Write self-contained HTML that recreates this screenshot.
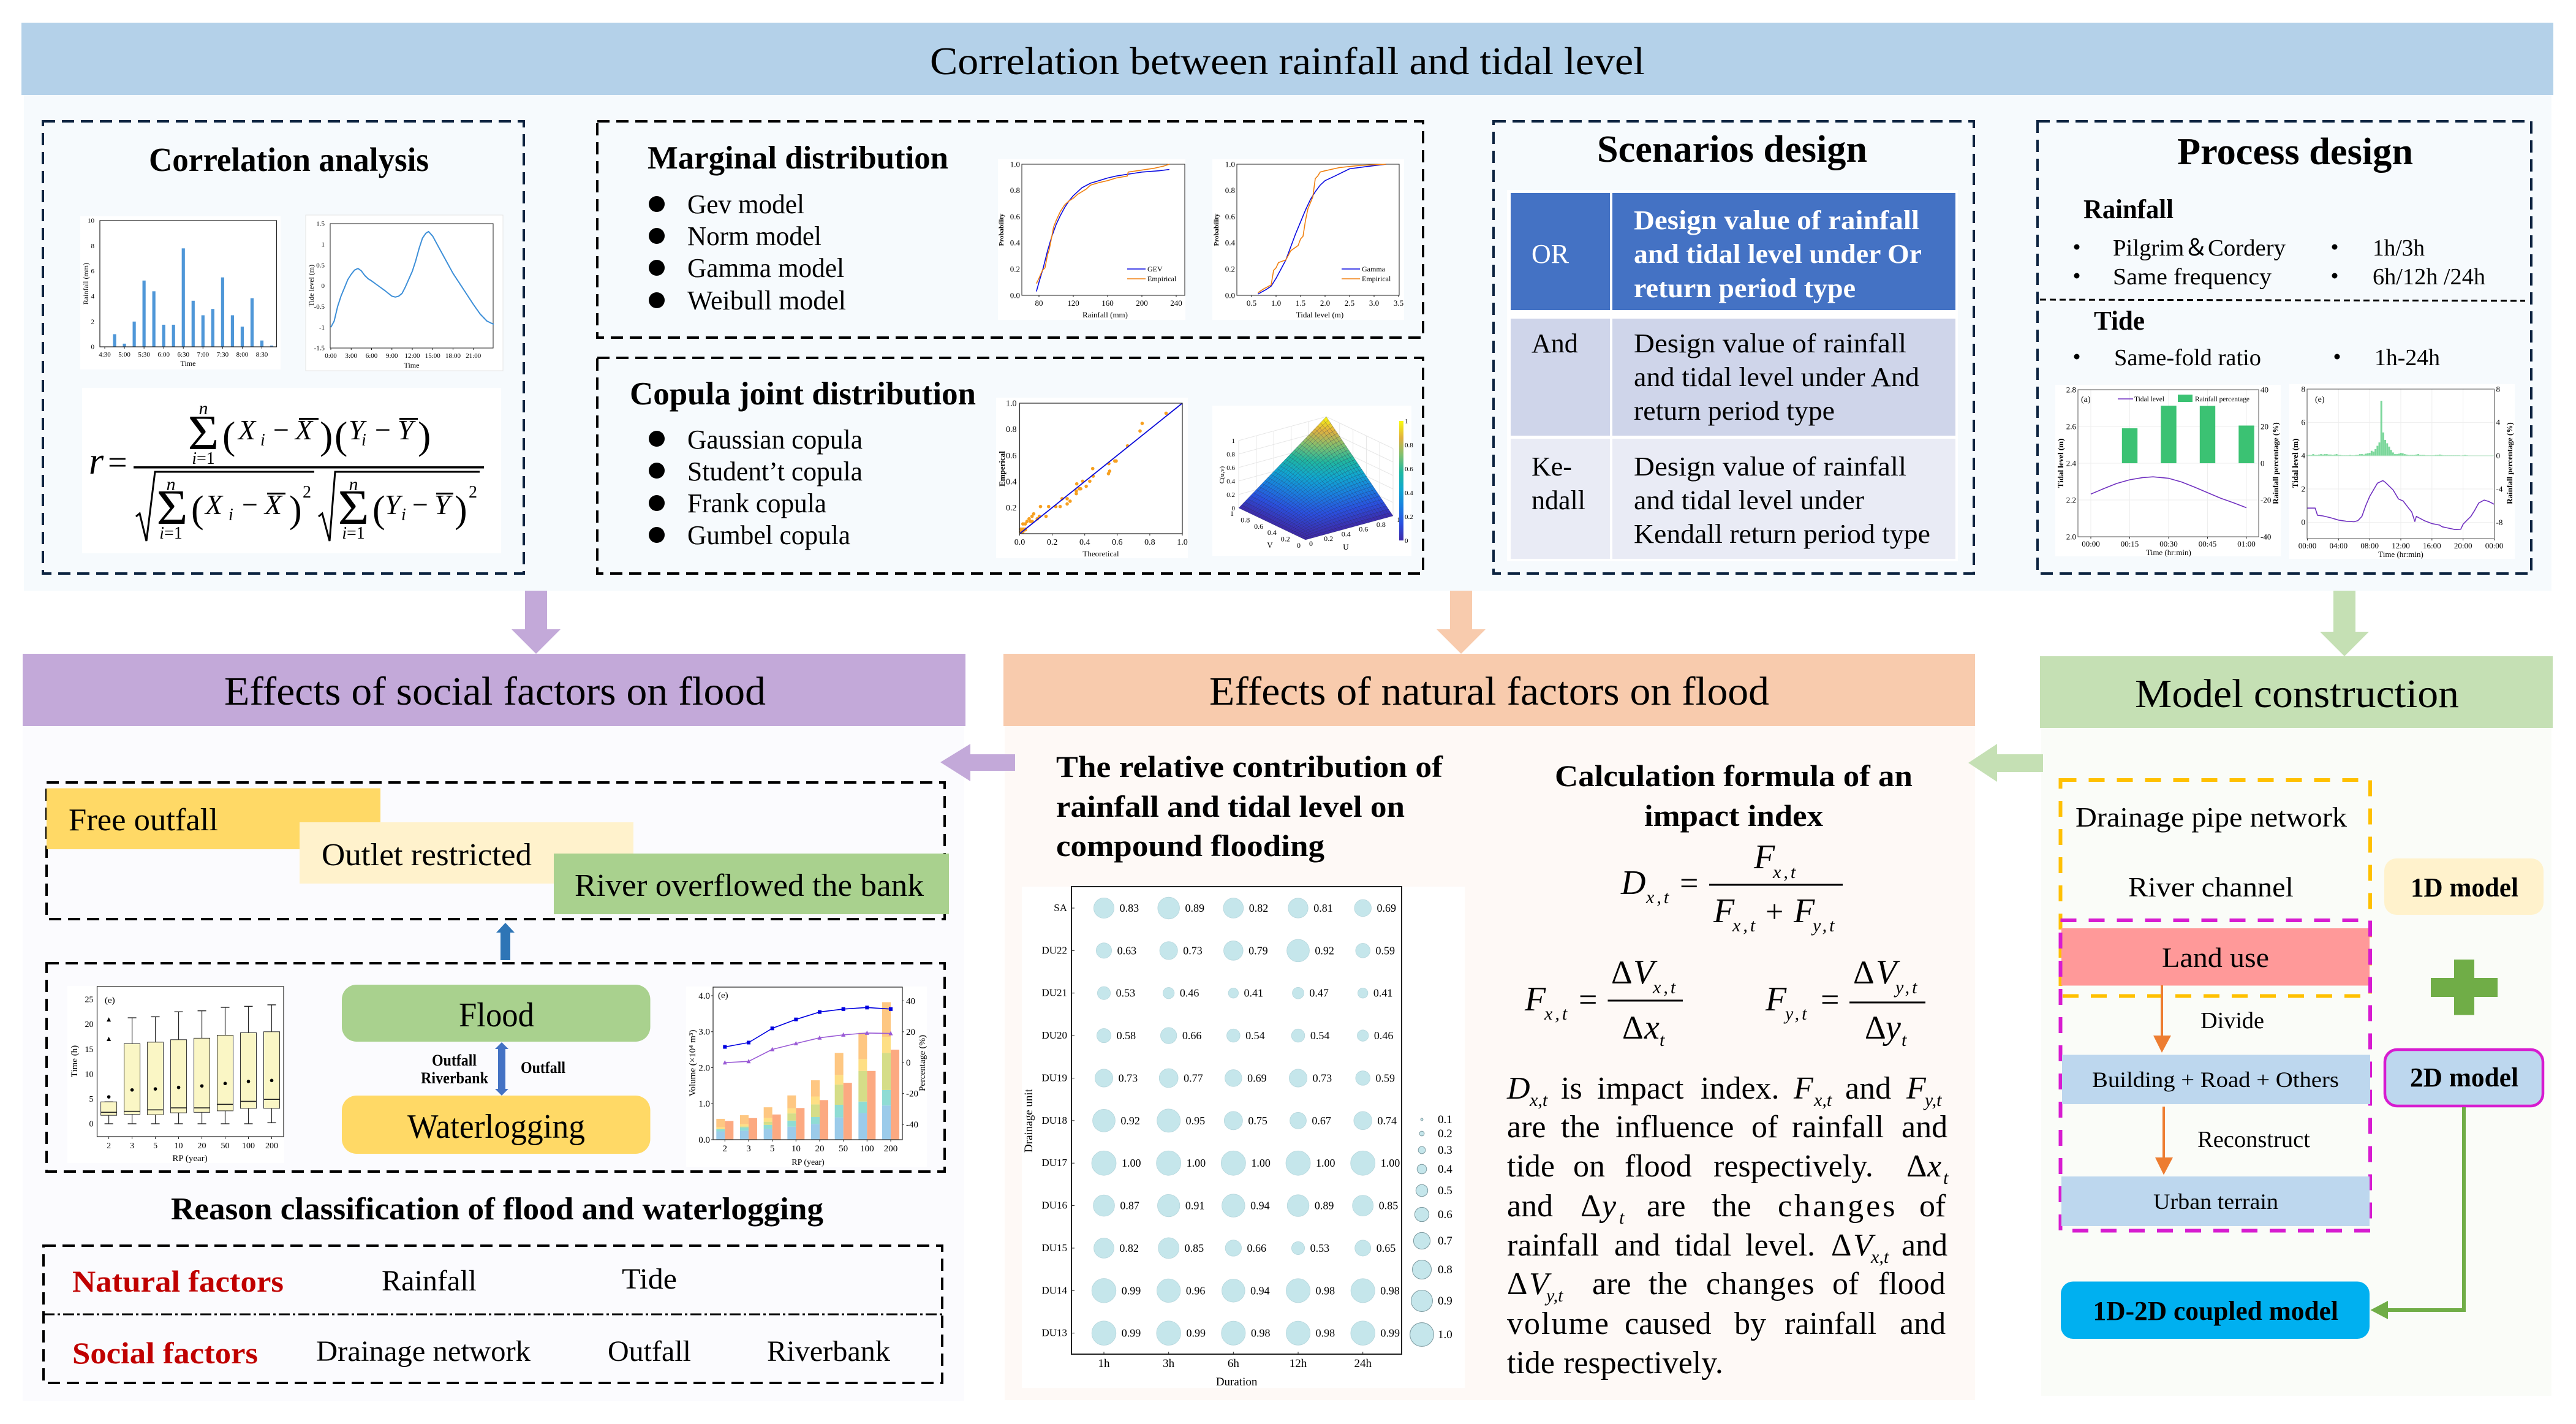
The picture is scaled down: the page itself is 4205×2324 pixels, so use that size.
<!DOCTYPE html>
<html lang="en">
<head>
<meta charset="utf-8">
<title>Correlation between rainfall and tidal level</title>
<style>
html,body{margin:0;padding:0;background:#fff}
svg{display:block}
text{font-family:"Liberation Serif","Times New Roman",serif;fill:#000}
.mi{font-style:italic}
.b{font-weight:bold}
.dk{fill:none;stroke:#0c2340;stroke-width:4;stroke-dasharray:20 11}
.bk{fill:none;stroke:#000;stroke-width:4;stroke-dasharray:20 11}
</style>
</head>
<body>
<svg id="canvas" xmlns="http://www.w3.org/2000/svg" width="4205" height="2324" viewBox="0 0 4205 2324">
<rect x="0" y="0" width="4205" height="2324" fill="#fff"/>

<!-- panels -->
<rect x="39" y="155" width="4126" height="809" fill="#f6fafd"/>
<rect x="37" y="1185" width="1537" height="1101" fill="#fbfbfe"/>
<rect x="1640" y="1185" width="1584" height="1100" fill="#fef9f6"/>
<rect x="3332" y="1188" width="833" height="1090" fill="#fafcf8"/>

<!-- banners -->
<rect x="35" y="37" width="4133" height="118" fill="#b4d1e9"/>
<text x="1518" y="121" font-size="64" textLength="1167" lengthAdjust="spacingAndGlyphs">Correlation between rainfall and tidal level</text>
<rect x="37" y="1067" width="1539" height="118" fill="#c3a9d9"/>
<text x="366" y="1150" font-size="66" textLength="884" lengthAdjust="spacingAndGlyphs">Effects of social factors on flood</text>
<rect x="1638" y="1067" width="1586" height="118" fill="#f8cbad"/>
<text x="1974" y="1150" font-size="66" textLength="914" lengthAdjust="spacingAndGlyphs">Effects of natural factors on flood</text>
<rect x="3330" y="1071" width="837" height="117" fill="#c5e0b4"/>
<text x="3485" y="1154" font-size="66" textLength="529" lengthAdjust="spacingAndGlyphs">Model construction</text>

<!-- flow arrows -->
<polygon points="857,964 893,964 893,1027 915,1027 875,1067 835,1027 857,1027" fill="#c3a9d9"/>
<polygon points="2367,964 2403,964 2403,1027 2425,1027 2385,1067 2345,1027 2367,1027" fill="#f8cbad"/>
<polygon points="3809,964 3845,964 3845,1031 3867,1031 3827,1071 3787,1031 3809,1031" fill="#c5e0b4"/>
<polygon points="1657,1231 1584,1231 1584,1214 1535,1244 1584,1275 1584,1258 1657,1258" fill="#c3a9d9"/>
<polygon points="3335,1231 3260,1231 3260,1214 3213,1245 3260,1276 3260,1260 3335,1260" fill="#c5e0b4"/>

<!-- correlation analysis -->
<rect x="70" y="198" width="785" height="738" class="dk"/>
<text x="243" y="279" font-size="55" class="b" textLength="457" lengthAdjust="spacingAndGlyphs">Correlation analysis</text>
<g id="rain-chart"><rect x="131" y="353" width="327" height="250" fill="#fff"/></g>
<g id="tide-chart"><rect x="499" y="351" width="322" height="254" fill="#fff" stroke="#e4e4e4" stroke-width="1"/></g>
<g>
<rect x="134" y="633" width="684" height="270" fill="#fff"/>
<text x="145" y="773" font-size="62" class="mi">r</text><text x="176" y="773" font-size="56">=</text>
<rect x="218" y="761" width="572" height="3.5" fill="#000"/>
<text x="332" y="733" font-size="80" text-anchor="middle" textLength="51" lengthAdjust="spacingAndGlyphs">Σ</text><text x="332" y="676" font-size="30" text-anchor="middle" class="mi">n</text><text x="332" y="757" font-size="28" text-anchor="middle"><tspan class="mi">i</tspan>=1</text>
<text x="363" y="732" font-size="64">(</text><text x="389" y="717" font-size="46" class="mi">X</text><text x="425" y="727" font-size="28" class="mi">i</text><text x="446" y="717" font-size="46">−</text><text x="482" y="717" font-size="46" class="mi">X</text><rect x="488" y="682" width="32" height="3"/><text x="522" y="732" font-size="64">)</text>
<text x="546" y="732" font-size="64">(</text><text x="569" y="717" font-size="46" class="mi">Y</text><text x="590" y="727" font-size="28" class="mi">i</text><text x="612" y="717" font-size="46">−</text><text x="649" y="717" font-size="46" class="mi">Y</text><rect x="652" y="682" width="30" height="3"/><text x="682" y="732" font-size="64">)</text>
<path d="M222 843 L228 838 L239 883 L253 770 L513 770" fill="none" stroke="#000" stroke-width="3"/>
<path d="M520 843 L526 838 L538 883 L547 770 L783 770" fill="none" stroke="#000" stroke-width="3"/>
<text x="281" y="855" font-size="80" text-anchor="middle" textLength="51" lengthAdjust="spacingAndGlyphs">Σ</text><text x="279" y="800" font-size="30" text-anchor="middle" class="mi">n</text><text x="279" y="879" font-size="28" text-anchor="middle"><tspan class="mi">i</tspan>=1</text>
<text x="312" y="852" font-size="62">(</text><text x="335" y="839" font-size="46" class="mi">X</text><text x="373" y="849" font-size="28" class="mi">i</text><text x="395" y="839" font-size="46">−</text><text x="432" y="839" font-size="46" class="mi">X</text><rect x="436" y="804" width="30" height="3"/><text x="472" y="852" font-size="62">)</text><text x="494" y="812" font-size="28">2</text>
<text x="577" y="855" font-size="80" text-anchor="middle" textLength="51" lengthAdjust="spacingAndGlyphs">Σ</text><text x="577" y="800" font-size="30" text-anchor="middle" class="mi">n</text><text x="577" y="879" font-size="28" text-anchor="middle"><tspan class="mi">i</tspan>=1</text>
<text x="608" y="852" font-size="62">(</text><text x="628" y="839" font-size="46" class="mi">Y</text><text x="655" y="849" font-size="28" class="mi">i</text><text x="673" y="839" font-size="46">−</text><text x="709" y="839" font-size="46" class="mi">Y</text><rect x="712" y="804" width="28" height="3"/><text x="742" y="852" font-size="62">)</text><text x="765" y="812" font-size="28">2</text>
</g>

<!-- marginal -->
<rect x="975" y="198" width="1348" height="353" class="bk"/>
<text x="1057" y="275" font-size="53" class="b" textLength="491" lengthAdjust="spacingAndGlyphs">Marginal distribution</text>
<g>
<circle cx="1072" cy="333" r="13"/><text x="1122" y="348" font-size="44" textLength="191" lengthAdjust="spacingAndGlyphs">Gev model</text>
<circle cx="1072" cy="385" r="13"/><text x="1122" y="400" font-size="44" textLength="219" lengthAdjust="spacingAndGlyphs">Norm model</text>
<circle cx="1072" cy="437" r="13"/><text x="1122" y="452" font-size="44" textLength="256" lengthAdjust="spacingAndGlyphs">Gamma model</text>
<circle cx="1072" cy="490" r="13"/><text x="1122" y="505" font-size="44" textLength="259" lengthAdjust="spacingAndGlyphs">Weibull model</text>
</g>
<g id="cdf-rain"><rect x="1629" y="260" width="306" height="262" fill="#fff"/></g>
<g id="cdf-tide"><rect x="1979" y="260" width="313" height="262" fill="#fff"/></g>

<!-- copula -->
<rect x="975" y="584" width="1348" height="352" class="bk"/>
<text x="1028" y="660" font-size="53" class="b" textLength="565" lengthAdjust="spacingAndGlyphs">Copula joint distribution</text>
<g>
<circle cx="1072" cy="716" r="13"/><text x="1122" y="732" font-size="44" textLength="286" lengthAdjust="spacingAndGlyphs">Gaussian copula</text>
<circle cx="1072" cy="768" r="13"/><text x="1122" y="784" font-size="44" textLength="286" lengthAdjust="spacingAndGlyphs">Student’t copula</text>
<circle cx="1072" cy="821" r="13"/><text x="1122" y="836" font-size="44" textLength="227" lengthAdjust="spacingAndGlyphs">Frank copula</text>
<circle cx="1072" cy="873" r="13"/><text x="1122" y="888" font-size="44" textLength="266" lengthAdjust="spacingAndGlyphs">Gumbel copula</text>
</g>
<g id="qq-chart"><rect x="1626" y="649" width="313" height="262" fill="#fff"/></g>
<g id="surface-chart"><rect x="1979" y="662" width="325" height="245" fill="#fff"/></g>

<!-- scenarios -->
<rect x="2438" y="198" width="784" height="738" class="dk"/>
<text x="2607" y="264" font-size="62" class="b" textLength="441" lengthAdjust="spacingAndGlyphs">Scenarios design</text>
<g>
<rect x="2460" y="310" width="736" height="606" fill="#fff"/>
<rect x="2466" y="315" width="162" height="191" fill="#4472c4"/>
<rect x="2632" y="315" width="560" height="191" fill="#4472c4"/>
<rect x="2466" y="520" width="162" height="191" fill="#cfd5ea"/>
<rect x="2632" y="520" width="560" height="191" fill="#cfd5ea"/>
<rect x="2466" y="716" width="162" height="196" fill="#e9ebf5"/>
<rect x="2632" y="716" width="560" height="196" fill="#e9ebf5"/>
<text x="2500" y="429" font-size="44" style="fill:#fff">OR</text>
<text x="2667" y="374" font-size="44" class="b" style="fill:#fff" textLength="466" lengthAdjust="spacingAndGlyphs">Design value of  rainfall</text>
<text x="2667" y="429" font-size="44" class="b" style="fill:#fff" textLength="470" lengthAdjust="spacingAndGlyphs">and tidal level under Or</text>
<text x="2667" y="485" font-size="44" class="b" style="fill:#fff" textLength="362" lengthAdjust="spacingAndGlyphs">return period type</text>
<text x="2500" y="575" font-size="44">And</text>
<text x="2667" y="575" font-size="44" textLength="445" lengthAdjust="spacingAndGlyphs">Design value of  rainfall</text>
<text x="2667" y="630" font-size="44" textLength="466" lengthAdjust="spacingAndGlyphs">and tidal level under And</text>
<text x="2667" y="685" font-size="44" textLength="328" lengthAdjust="spacingAndGlyphs">return period type</text>
<text x="2500" y="776" font-size="44">Ke-</text>
<text x="2500" y="831" font-size="44">ndall</text>
<text x="2667" y="776" font-size="44" textLength="445" lengthAdjust="spacingAndGlyphs">Design value of  rainfall</text>
<text x="2667" y="831" font-size="44" textLength="376" lengthAdjust="spacingAndGlyphs">and tidal level under</text>
<text x="2667" y="886" font-size="44" textLength="484" lengthAdjust="spacingAndGlyphs">Kendall return period type</text>
</g>

<!-- process -->
<rect x="3326" y="198" width="806" height="738" class="dk"/>
<line x1="3330" y1="489" x2="4122" y2="491" stroke="#000" stroke-width="3" stroke-dasharray="10 6"/>
<text x="3554" y="268" font-size="62" class="b" textLength="385" lengthAdjust="spacingAndGlyphs">Process design</text>
<text x="3401" y="356" font-size="44" class="b" textLength="147" lengthAdjust="spacingAndGlyphs">Rainfall</text>
<circle cx="3390" cy="403" r="4.5"/><text x="3449" y="417" font-size="38" textLength="282" lengthAdjust="spacingAndGlyphs">Pilgrim＆Cordery</text>
<circle cx="3390" cy="450" r="4.5"/><text x="3449" y="464" font-size="38" textLength="259" lengthAdjust="spacingAndGlyphs">Same  frequency</text>
<circle cx="3811" cy="403" r="4.5"/><text x="3873" y="417" font-size="38" textLength="85" lengthAdjust="spacingAndGlyphs">1h/3h</text>
<circle cx="3811" cy="450" r="4.5"/><text x="3873" y="464" font-size="38" textLength="184" lengthAdjust="spacingAndGlyphs">6h/12h /24h</text>
<text x="3418" y="538" font-size="44" class="b" textLength="83" lengthAdjust="spacingAndGlyphs">Tide</text>
<circle cx="3390" cy="582" r="4.5"/><text x="3451" y="596" font-size="38" textLength="240" lengthAdjust="spacingAndGlyphs">Same-fold ratio</text>
<circle cx="3815" cy="582" r="4.5"/><text x="3876" y="596" font-size="38" textLength="107" lengthAdjust="spacingAndGlyphs">1h-24h</text>
<g id="short-event"><rect x="3355" y="628" width="368" height="280" fill="#fff"/></g>
<g id="long-event"><rect x="3737" y="627" width="368" height="285" fill="#fff"/></g>

<!-- social section -->
<rect x="76" y="1277" width="1466" height="223" class="bk"/>
<rect x="76" y="1286.5" width="545" height="99.5" fill="#ffd966"/>
<text x="112" y="1355" font-size="52" textLength="244" lengthAdjust="spacingAndGlyphs">Free outfall</text>
<rect x="489" y="1342" width="545" height="100" fill="#fff2cc"/>
<text x="525" y="1412" font-size="52" textLength="343" lengthAdjust="spacingAndGlyphs">Outlet restricted</text>
<rect x="904" y="1393" width="645" height="99" fill="#a9d18e"/>
<text x="938" y="1462" font-size="52" textLength="570" lengthAdjust="spacingAndGlyphs">River overflowed the bank</text>
<polygon points="825,1506 840,1522 833,1522 833,1567 817,1567 817,1522 810,1522" fill="#2e75b6"/>
<rect x="76" y="1572" width="1466" height="340" class="bk"/>
<g id="box-chart"><rect x="110" y="1609" width="354" height="289" fill="#fff"/></g>
<rect x="558" y="1607" width="503.5" height="93" rx="24" fill="#a9d18e"/>
<text x="749" y="1675" font-size="56" textLength="123" lengthAdjust="spacingAndGlyphs">Flood</text>
<rect x="558" y="1788" width="503.5" height="95" rx="24" fill="#ffd966"/>
<text x="665" y="1857" font-size="56" textLength="290" lengthAdjust="spacingAndGlyphs">Waterlogging</text>
<polygon points="819,1701 830,1712 825,1712 825,1777 830,1777 819,1788 808,1777 813,1777 813,1712 808,1712" fill="#4472c4"/>
<text x="705" y="1739" font-size="26" class="b" textLength="73" lengthAdjust="spacingAndGlyphs">Outfall</text>
<text x="687" y="1768" font-size="26" class="b" textLength="110" lengthAdjust="spacingAndGlyphs">Riverbank</text>
<text x="850" y="1751" font-size="26" class="b" textLength="73" lengthAdjust="spacingAndGlyphs">Outfall</text>
<g id="volume-chart"><rect x="1120" y="1610" width="393" height="295" fill="#fff"/></g>
<text x="279" y="1990" font-size="52" class="b" textLength="1065" lengthAdjust="spacingAndGlyphs">Reason classification of flood and waterlogging</text>
<rect x="71" y="2033" width="1467" height="224" class="bk"/>
<line x1="71" y1="2145" x2="1538" y2="2145" stroke="#000" stroke-width="3" stroke-dasharray="18 5 4 5"/>
<text x="118" y="2108" font-size="50" class="b" style="fill:#c00000" textLength="345" lengthAdjust="spacingAndGlyphs">Natural factors</text>
<text x="623" y="2106" font-size="48" textLength="155" lengthAdjust="spacingAndGlyphs">Rainfall</text>
<text x="1015" y="2103" font-size="48" textLength="90" lengthAdjust="spacingAndGlyphs">Tide</text>
<text x="118" y="2225" font-size="50" class="b" style="fill:#c00000" textLength="303" lengthAdjust="spacingAndGlyphs">Social factors</text>
<text x="516" y="2221" font-size="48" textLength="350" lengthAdjust="spacingAndGlyphs">Drainage network</text>
<text x="992" y="2221" font-size="48" textLength="136" lengthAdjust="spacingAndGlyphs">Outfall</text>
<text x="1252" y="2221" font-size="48" textLength="201" lengthAdjust="spacingAndGlyphs">Riverbank</text>

<!-- natural section -->
<text x="1724" y="1268" font-size="50" class="b" textLength="631" lengthAdjust="spacingAndGlyphs">The relative contribution of</text>
<text x="1724" y="1333" font-size="50" class="b" textLength="569" lengthAdjust="spacingAndGlyphs">rainfall and tidal level on</text>
<text x="1724" y="1397" font-size="50" class="b" textLength="438" lengthAdjust="spacingAndGlyphs">compound flooding</text>
<g id="bubble-chart"><rect x="1668" y="1447" width="723" height="818" fill="#fff"/></g>
<text x="2538" y="1283" font-size="50" class="b" textLength="584" lengthAdjust="spacingAndGlyphs">Calculation formula of an</text>
<text x="2684" y="1348" font-size="50" class="b" textLength="292" lengthAdjust="spacingAndGlyphs">impact index</text>
<g>
<text x="2646" y="1459" font-size="56" class="mi">D</text><text x="2687" y="1474" font-size="30" class="mi" letter-spacing="4">x,t</text><text x="2742" y="1459" font-size="54">=</text>
<rect x="2790" y="1442.5" width="218" height="3"/>
<text x="2863" y="1417" font-size="56" class="mi">F</text><text x="2894" y="1433" font-size="30" class="mi" letter-spacing="4">x,t</text>
<text x="2797" y="1505" font-size="56" class="mi">F</text><text x="2828" y="1520" font-size="30" class="mi" letter-spacing="4">x,t</text><text x="2882" y="1505" font-size="52">+</text><text x="2928" y="1505" font-size="56" class="mi">F</text><text x="2959" y="1520" font-size="30" class="mi" letter-spacing="4">y,t</text>
</g>
<g>
<text x="2489" y="1649" font-size="56" class="mi">F</text><text x="2521" y="1664" font-size="30" class="mi" letter-spacing="4">x,t</text><text x="2577" y="1649" font-size="54">=</text>
<rect x="2624.5" y="1631.5" width="122.5" height="3"/>
<text x="2630" y="1605" font-size="54">Δ</text><text x="2666" y="1605" font-size="56" class="mi">V</text><text x="2698" y="1621" font-size="30" class="mi" letter-spacing="4">x,t</text>
<text x="2648" y="1695" font-size="54">Δ</text><text x="2684" y="1695" font-size="56" class="mi">x</text><text x="2709" y="1707" font-size="30" class="mi">t</text>
</g>
<g>
<text x="2882" y="1649" font-size="56" class="mi">F</text><text x="2914" y="1664" font-size="30" class="mi" letter-spacing="4">y,t</text><text x="2972" y="1649" font-size="54">=</text>
<rect x="3019" y="1634.5" width="124" height="3"/>
<text x="3025" y="1605" font-size="54">Δ</text><text x="3062" y="1605" font-size="56" class="mi">V</text><text x="3094" y="1621" font-size="30" class="mi" letter-spacing="4">y,t</text>
<text x="3044" y="1695" font-size="54">Δ</text><text x="3078" y="1695" font-size="56" class="mi">y</text><text x="3104" y="1707" font-size="30" class="mi">t</text>
</g>
<g font-size="52">
<text y="1793"><tspan x="2460" class="mi">D</tspan><tspan x="2497" dy="12" font-size="30" class="mi">x,t</tspan><tspan x="2548" dy="-12">is</tspan><tspan x="2607">impact</tspan><tspan x="2776">index.</tspan><tspan x="2928" class="mi">F</tspan><tspan x="2961" dy="12" font-size="30" class="mi">x,t</tspan><tspan x="3012" dy="-12">and</tspan><tspan x="3112" class="mi">F</tspan><tspan x="3142" dy="12" font-size="30" class="mi">y,t</tspan></text>
<text y="1856"><tspan x="2460">are</tspan><tspan x="2548">the</tspan><tspan x="2637">influence</tspan><tspan x="2859">of</tspan><tspan x="2925">rainfall</tspan><tspan x="3104">and</tspan></text>
<text y="1920"><tspan x="2460">tide</tspan><tspan x="2568">on</tspan><tspan x="2652">flood</tspan><tspan x="2797">respectively.</tspan><tspan x="3112">Δ</tspan><tspan x="3146" class="mi">x</tspan><tspan x="3172" dy="12" font-size="30" class="mi">t</tspan></text>
<text y="1985"><tspan x="2460">and</tspan><tspan x="2580">Δ</tspan><tspan x="2615" class="mi">y</tspan><tspan x="2643" dy="12" font-size="30" class="mi">t</tspan><tspan x="2688" dy="-12">are</tspan><tspan x="2795">the</tspan><tspan x="2902" letter-spacing="4">changes</tspan><tspan x="3133">of</tspan></text>
<text y="2049"><tspan x="2460">rainfall</tspan><tspan x="2635">and</tspan><tspan x="2734">tidal</tspan><tspan x="2849">level.</tspan><tspan x="2989">Δ</tspan><tspan x="3025" class="mi">V</tspan><tspan x="3054" dy="12" font-size="30" class="mi">x,t</tspan><tspan x="3104" dy="-12">and</tspan></text>
<text y="2112"><tspan x="2460">Δ</tspan><tspan x="2496" class="mi">V</tspan><tspan x="2524" dy="12" font-size="30" class="mi">y,t</tspan><tspan x="2599" dy="-12">are</tspan><tspan x="2691">the</tspan><tspan x="2785" letter-spacing="1.5">changes</tspan><tspan x="2991">of</tspan><tspan x="3066">flood</tspan></text>
<text y="2177"><tspan x="2460" letter-spacing="2">volume</tspan><tspan x="2652">caused</tspan><tspan x="2831">by</tspan><tspan x="2913">rainfall</tspan><tspan x="3101">and</tspan></text>
<text y="2241"><tspan x="2460">tide</tspan><tspan x="2552">respectively.</tspan></text>
</g>

<!-- model section -->
<rect x="3363.5" y="1273" width="505.5" height="352.5" fill="none" stroke="#ffc000" stroke-width="6" stroke-dasharray="26 20"/>
<text x="3388" y="1349" font-size="46" textLength="443" lengthAdjust="spacingAndGlyphs">Drainage pipe network</text>
<text x="3474" y="1463" font-size="46" textLength="270" lengthAdjust="spacingAndGlyphs">River channel</text>
<rect x="3365" y="1515" width="503" height="93.5" fill="#ff9999"/>
<rect x="3363.5" y="1502" width="505.5" height="506.5" fill="none" stroke="#d71cd0" stroke-width="6" stroke-dasharray="26 20"/>
<text x="3529" y="1578" font-size="46" textLength="175" lengthAdjust="spacingAndGlyphs">Land use</text>
<polygon points="3527,1608 3531,1608 3531,1690 3544,1690 3529,1718 3515,1690 3527,1690" fill="#ed7d31"/>
<text x="3592" y="1678" font-size="38" textLength="104" lengthAdjust="spacingAndGlyphs">Divide</text>
<rect x="3366" y="1721.5" width="503" height="80.5" fill="#bdd7ee"/>
<text x="3415" y="1774" font-size="36" textLength="403" lengthAdjust="spacingAndGlyphs">Building + Road + Others</text>
<polygon points="3530,1806 3534,1806 3534,1889 3547,1889 3532,1917.5 3518,1889 3530,1889" fill="#ed7d31"/>
<text x="3587" y="1872" font-size="38" textLength="184" lengthAdjust="spacingAndGlyphs">Reconstruct</text>
<rect x="3365" y="1920" width="503" height="81" fill="#bdd7ee"/>
<text x="3515" y="1973" font-size="36" textLength="204" lengthAdjust="spacingAndGlyphs">Urban terrain</text>
<rect x="3892" y="1401" width="260" height="92" rx="20" fill="#fff2cc"/>
<text x="3935" y="1463" font-size="44" class="b" textLength="176" lengthAdjust="spacingAndGlyphs">1D model</text>
<path d="M3968 1596H4006V1566H4039V1596H4077V1627H4039V1656.5H4006V1627H3968Z" fill="#70ad47"/>
<rect x="3893" y="1713" width="258" height="92" rx="20" fill="#bdd7ee" stroke="#d71cd0" stroke-width="4.5"/>
<text x="3934" y="1773" font-size="44" class="b" textLength="177" lengthAdjust="spacingAndGlyphs">2D model</text>
<path d="M4022 1807V2138H3895" fill="none" stroke="#70ad47" stroke-width="6"/>
<polygon points="3869.5,2138 3898,2123 3898,2153" fill="#70ad47"/>
<rect x="3364" y="2091.5" width="504" height="93.5" rx="20" fill="#00b0f0"/>
<text x="3416.5" y="2154" font-size="44" class="b" textLength="400.5" lengthAdjust="spacingAndGlyphs">1D-2D coupled model</text>
</svg>

<script>
// ---- Rainfall bar chart data
const rainTimes = ["4:30","4:45","5:00","5:15","5:30","5:45","6:00","6:15","6:30","6:45","7:00","7:15","7:30","7:45","8:00","8:15","8:30","8:45"];
const rainDepth = [0,1,0.25,2,5.25,4.4,1.75,1.75,7.8,3.65,2.5,3,5.5,2.5,1.6,3.85,0.5,0.1];
const rainYTicks = ["0","2","4","6","8","10"];
// ---- Tide line chart data
const tideHours = [0,0.5,1,1.5,2,2.5,3,3.5,4,4.5,5,5.5,6,7,8,9,9.5,10,10.5,11,12,12.5,13,13.5,14,14.4,15,16,17,18,19,20,21,22,23,24];
const tideLevels = [-1,-0.85,-0.5,-0.25,-0.05,0.15,0.28,0.38,0.42,0.36,0.25,0.17,0.12,0,-0.12,-0.25,-0.27,-0.25,-0.18,-0.02,0.35,0.6,0.9,1.15,1.27,1.31,1.2,0.9,0.6,0.3,0.05,-0.2,-0.45,-0.68,-0.85,-0.93];
const tideXTicks = ["0:00","3:00","6:00","9:00","12:00","15:00","18:00","21:00"];
const tideYTicks = ["-1.5","-1","-0.5","0","0.5","1","1.5"];
// ---- Marginal CDF data
const cdfRainX = [77,80,85,90,95,100,105,110,115,120,125,130,140,150,160,170,180,190,200,220,232];
const cdfRainGev = [0.03,0.1,0.21,0.34,0.45,0.54,0.61,0.67,0.72,0.76,0.79,0.82,0.855,0.875,0.895,0.91,0.92,0.93,0.94,0.95,0.96];
const cdfRainEmpX = [77,80,84,87,90,92,95,97,100,105,110,115,120,125,130,135,140,150,160,170,183,184,200,215,225,232];
const cdfRainEmpY = [0.09,0.13,0.19,0.21,0.31,0.35,0.45,0.52,0.57,0.64,0.69,0.72,0.74,0.77,0.79,0.81,0.84,0.86,0.875,0.895,0.91,0.94,0.955,0.97,0.985,1];
const cdfRainTicks = ["80","120","160","200","240"];
const cdfTideX = [0.63,0.8,0.9,1,1.1,1.2,1.3,1.4,1.5,1.6,1.7,1.8,1.9,2,2.2,2.5,2.8,3.25];
const cdfTideGamma = [0.01,0.045,0.07,0.13,0.2,0.27,0.37,0.47,0.56,0.65,0.73,0.79,0.84,0.875,0.91,0.965,0.98,1];
const cdfTideEmpX = [0.63,0.75,0.9,0.95,1,1.05,1.2,1.3,1.45,1.5,1.55,1.6,1.65,1.75,1.8,1.85,1.9,2,2.3,2.7,3.25];
const cdfTideEmpY = [0.02,0.05,0.08,0.19,0.21,0.25,0.27,0.34,0.38,0.43,0.45,0.57,0.66,0.75,0.89,0.91,0.94,0.95,0.975,0.99,1];
const cdfTideTicks = ["0.5","1.0","1.5","2.0","2.5","3.0","3.5"];
const probTicks = ["0.0","0.2","0.4","0.6","0.8","1.0"];
// ---- QQ scatter data
const qqTheoretical = [0.9,0.753,0.74,0.663,0.593,0.585,0.548,0.553,0.546,0.449,0.452,0.431,0.409,0.387,0.351,0.348,0.348,0.366,0.375,0.31,0.292,0.292,0.261,0.249,0.222,0.178,0.128,0.162,0.121,0.108,0.086,0.076,0.077,0.067,0.058,0.045,0.034,0.02,0.005,0.015,0.025,0.035,0.005,0.01,0.02,0.035];
const qqEmpirical = [0.923,0.845,0.787,0.673,0.557,0.557,0.537,0.479,0.46,0.499,0.441,0.402,0.363,0.402,0.382,0.327,0.307,0.344,0.344,0.249,0.268,0.228,0.268,0.208,0.208,0.208,0.208,0.133,0.133,0.114,0.152,0.133,0.094,0.094,0.114,0.094,0.075,0.075,0.035,0.035,0.035,0.035,0.015,0.015,0.015,0.03];
const qqXTicks = ["0.0","0.2","0.4","0.6","0.8","1.0"];
const qqYTicks = ["0.2","0.4","0.6","0.8","1.0"];
// ---- Copula surface data (rows: u = 0..1, columns: v = 0..1)
const surfaceC = [
[0,0,0,0,0,0,0,0,0,0,0],
[0,0.026,0.044,0.058,0.069,0.078,0.085,0.091,0.096,0.099,0.1],
[0,0.044,0.078,0.106,0.13,0.15,0.166,0.179,0.189,0.197,0.2],
[0,0.058,0.106,0.148,0.185,0.216,0.243,0.264,0.282,0.294,0.3],
[0,0.069,0.13,0.185,0.234,0.277,0.315,0.347,0.372,0.391,0.4],
[0,0.078,0.15,0.216,0.277,0.333,0.382,0.425,0.461,0.487,0.5],
[0,0.085,0.166,0.243,0.315,0.382,0.444,0.5,0.546,0.582,0.6],
[0,0.091,0.179,0.264,0.347,0.425,0.5,0.568,0.627,0.674,0.7],
[0,0.096,0.189,0.282,0.372,0.461,0.546,0.627,0.703,0.765,0.8],
[0,0.099,0.197,0.294,0.391,0.487,0.582,0.674,0.765,0.846,0.9],
[0,0.1,0.2,0.3,0.4,0.5,0.6,0.7,0.8,0.9,1]];
const surfaceTicks = ["0","0.2","0.4","0.6","0.8","1"];
const colorbarTicks = ["0","0.2","0.4","0.6","0.8","1"];
const parulaColors = ["#3e2aa8","#2a50e0","#1a80e0","#10a8d0","#20b8a0","#80c070","#e0b040","#f9fb0e"];
// ---- One-hour event data
const shortBarMinutes = [15,30,45,60];
const shortRainPct = [19,31.3,31.2,20.5];
const shortTideMinutes = [0,5,10,15,20,24,30,35,40,45,50,55,60];
const shortTideLevel = [2.232,2.262,2.29,2.31,2.322,2.326,2.318,2.298,2.27,2.24,2.21,2.185,2.158];
const shortXTicks = ["00:00","00:15","00:30","00:45","01:00"];
const shortLeftTicks = ["2.0","2.2","2.4","2.6","2.8"];
const shortRightTicks = ["-40","-20","0","20","40"];
// ---- Daily event data
const longRainPct = [0.05,0.1,0.1,0.2,0.1,0.1,0.15,0.2,0.15,0.2,0.2,0.15,0.15,0.1,0.15,0.2,0.1,0.1,0.05,0.05,0.05,0.05,0.1,0.05,0.05,0.1,0.1,0.2,0.2,0.15,0.25,0.3,0.35,0.6,0.5,0.8,1.2,1.6,6.6,2.8,1.9,1.5,1.1,0.7,0.4,0.2,0.2,0.25,0.35,0.3,0.2,0.15,0.1,0.1,0.1,0.1,0.15,0.2,0.1,0.1,0.1,0.05,0.05,0.05,0.05,0.05,0.1,0.1,0.15,0.1,0.05,0.05,0.05,0.05,0.05,0.05,0.05,0.05,0.05,0.02,0.05,0.1,0.05,0.02,0.02,0.02,0.02,0.02,0.02,0.02,0.02,0.02,0.02,0.02,0.02,0.02];
const longTideHours = [0,1,1.3,2,3,4,5,6,6.5,7,7.5,8,8.5,9,9.7,10,11,11.7,12.3,13,13.4,13.8,14,15,16,17,17.3,18,19,19.7,20,20.5,21,21.5,22,22.7,23.3,24];
const longTideLevel = [0.85,0.85,0.42,0.38,0.27,0.13,0.06,0.03,0.1,0.35,1,1.55,1.95,2.35,2.5,2.4,1.95,1.4,1.28,0.85,0.62,0.05,0.35,0.1,-0.08,-0.17,-0.27,-0.34,-0.44,-0.42,-0.12,0.12,0.35,0.72,1.15,1.33,1.25,1.08];
const longXTicks = ["00:00","04:00","08:00","12:00","16:00","20:00","00:00"];
const longLeftTicks = ["0","2","4","6","8"];
const longRightTicks = ["-8","-4","0","4","8"];
// ---- Box plot data
const boxRP = ["2","3","5","10","20","50","100","200"];
const boxLow = [0,0,0,0,0,0,0,0.2];
const boxQ1 = [1.7,1.9,1.8,2.2,2.3,2.6,3.1,3.1];
const boxMedian = [2.3,2.5,2.8,3.2,3.2,3.9,4.5,4.9];
const boxQ3 = [4.4,16.1,16.4,16.9,17.2,17.8,18.3,18.5];
const boxHigh = [4.4,21.3,21.5,22.5,22.7,23.4,23.6,23.9];
const boxMean = [5.4,6.8,7,7.3,7.6,8.1,8.5,8.7];
const boxOutliers = [17,20.9];
const boxYTicks = ["0","5","10","15","20","25"];
// ---- Volume bar and line data
const volumeRP = ["2","3","5","10","20","50","100","200"];
const volBlue = [0.23,0.25,0.3,0.36,0.44,0.62,0.74,0.95];
const volTeal = [0.06,0.09,0.11,0.17,0.19,0.35,0.32,0.43];
const volGreen = [0.01,0.03,0.09,0.2,0.35,0.56,0.85,1.03];
const volYellow = [0.05,0.06,0.1,0.14,0.22,0.27,0.33,0.45];
const volOrange = [0.23,0.25,0.3,0.36,0.45,0.61,0.73,0.96];
const volTotal = [0.52,0.6,0.7,0.88,1.1,1.58,1.91,2.5];
const pctBlue = [10.2,13,22.2,28,32.8,34.7,35.7,34.7];
const pctPurple = [0,0.8,8.6,12.4,16.1,18,19.2,18.9];
const volLeftTicks = ["0.0","1.0","2.0","3.0","4.0"];
const volRightTicks = ["-40","-20","0","20","40"];
// ---- Bubble chart data
const bubbleRows = ["SA","DU22","DU21","DU20","DU19","DU18","DU17","DU16","DU15","DU14","DU13"];
const bubbleCols = ["1h","3h","6h","12h","24h"];
const bubbleValues = [
[0.83,0.89,0.82,0.81,0.69],
[0.63,0.73,0.79,0.92,0.59],
[0.53,0.46,0.41,0.47,0.41],
[0.58,0.66,0.54,0.54,0.46],
[0.73,0.77,0.69,0.73,0.59],
[0.92,0.95,0.75,0.67,0.74],
[1,1,1,1,1],
[0.87,0.91,0.94,0.89,0.85],
[0.82,0.85,0.66,0.53,0.65],
[0.99,0.96,0.94,0.98,0.98],
[0.99,0.99,0.98,0.98,0.99]];
const bubbleLegend = [0.1,0.2,0.3,0.4,0.5,0.6,0.7,0.8,0.9,1];

const NS = 'http://www.w3.org/2000/svg';
function add(parent, tag, attrs, txt) {
  const e = document.createElementNS(NS, tag);
  for (const k in attrs) e.setAttribute(k, attrs[k]);
  if (txt !== undefined) e.textContent = txt;
  parent.appendChild(e);
  return e;
}
function scale(d0, d1, r0, r1) { return v => r0 + (v - d0) * (r1 - r0) / (d1 - d0); }
const G = id => document.getElementById(id);

function frame(g, name, x0, y0, x1, y1, w, c) {
  const r = add(g, 'rect', {x: x0, y: y0, width: x1 - x0, height: y1 - y0, fill: 'none', stroke: c || '#222', 'stroke-width': w || 1.2});
  
  
}
function xAxis(g, name, labels, at, y, font, gap, len) {
  labels.forEach((lab, i) => {
    const px = at(lab, i);
    if (px === null) return;
    const tk = add(g, 'line', {x1: px, x2: px, y1: y, y2: y + len, stroke: '#222', 'stroke-width': 1});
    
    
    const t = add(g, 'text', {x: px, y: y + gap, 'font-size': font, 'text-anchor': 'middle'}, lab);
    
    
  });
}
function yAxis(g, name, labels, at, x, dir, font, gap, len) {
  labels.forEach(lab => {
    const py = at(parseFloat(lab));
    const tk = add(g, 'line', {x1: x, x2: x + dir * len, y1: py, y2: py, stroke: '#222', 'stroke-width': 1});
    
    
    const t = add(g, 'text', {x: x + dir * gap, y: py + font * 0.33, 'font-size': font, 'text-anchor': dir < 0 ? 'end' : 'start'}, lab);
    
    
  });
}
function title(g, name, str, x, y, font, rot, bold) {
  const attrs = {x: x, y: y, 'font-size': font, 'text-anchor': 'middle'};
  if (rot) attrs.transform = 'rotate(-90 ' + x + ' ' + y + ')';
  if (bold) attrs['font-weight'] = 'bold';
  const t = add(g, 'text', attrs, str);
  
  
}
function poly(g, name, xs, ys, sx, sy, color, w) {
  const pts = xs.map((v, i) => sx(v).toFixed(1) + ',' + sy(ys[i]).toFixed(1)).join(' ');
  const l = add(g, 'polyline', {points: pts, fill: 'none', stroke: color, 'stroke-width': w, 'stroke-linejoin': 'round'});
  
  
}
function grid(g, name, x0, y0, x1, y1, xsPx, ysPx) {
  xsPx.forEach(px => {
    const l = add(g, 'line', {x1: px, x2: px, y1: y0, y2: y1, stroke: '#eee', 'stroke-width': 1});
    
    
  });
  ysPx.forEach(py => {
    const l = add(g, 'line', {x1: x0, x2: x1, y1: py, y2: py, stroke: '#eee', 'stroke-width': 1});
    
    
  });
}

// Rainfall bars
(function () {
  const g = G('rain-chart');
  const x = i => 163 + (i + 0.5) * 16.03, y = scale(0, 10, 566, 360);
  rainDepth.forEach((v, i) => {
    const b = add(g, 'rect', {x: x(i) - 2.6, y: y(v), width: 5.2, height: 566 - y(v), fill: '#4f97d8'});
    
    
  });
  frame(g, 'rainfall', 163, 360, 451.5, 566, 1.2);
  xAxis(g, 'rainfall', rainTimes, (l, i) => i % 2 ? null : x(i), 566, 11, 16, 3);
  yAxis(g, 'rainfall', rainYTicks, y, 163, -1, 11, 9, 0);
  title(g, 'rainfall-x-title', 'Time', 307, 597, 12);
  title(g, 'rainfall-y-title', 'Rainfall (mm)', 144, 463, 12, true);
})();

// Tide line
(function () {
  const g = G('tide-chart');
  const x = scale(0, 24, 540, 806), y = scale(-1.5, 1.5, 568, 365);
  frame(g, 'tide', 539, 365, 805, 568, 1);
  poly(g, 'tide-level-line', tideHours, tideLevels, x, y, '#3d8fd8', 2);
  xAxis(g, 'tide', tideXTicks, l => x(parseInt(l, 10)), 568, 11, 16, 3);
  yAxis(g, 'tide', tideYTicks, y, 539, -1, 11, 9, 0);
  title(g, 'tide-x-title', 'Time', 672, 600, 12);
  title(g, 'tide-y-title', 'Tide level (m)', 512, 466, 12, true);
})();

// CDF charts
function cdf(id, name, xs, ys, ex, ey, ticks, d0, d1, r0, r1, box, xTitle, lab) {
  const g = G(id);
  const x = scale(d0, d1, r0, r1), y = scale(0, 1, box[3], box[1]);
  frame(g, name, box[0], box[1], box[2], box[3], 1);
  poly(g, name + '-fit-line', xs, ys, x, y, '#0a0ae0', 1.6);
  poly(g, name + '-empirical-line', ex, ey, x, y, '#f08010', 1.6);
  xAxis(g, name, ticks, l => x(parseFloat(l)), box[3], 13, 17, 3);
  yAxis(g, name, probTicks, y, box[0], -1, 13, 3, 0);
  title(g, name + '-x-title', xTitle, (box[0] + box[2]) / 2 + 3, 518, 13);
  title(g, name + '-y-title', 'Probability', box[0] - 30, 375, 11, true, true);
  const l1 = add(g, 'line', {x1: box[2] - 94, x2: box[2] - 64, y1: 439, y2: 439, stroke: '#0a0ae0', 'stroke-width': 1.6});
  
  
  const t1 = add(g, 'text', {x: box[2] - 61, y: 443, 'font-size': 12}, lab);
  
  
  const l2 = add(g, 'line', {x1: box[2] - 94, x2: box[2] - 64, y1: 455, y2: 455, stroke: '#f08010', 'stroke-width': 1.6});
  
  
  const t2 = add(g, 'text', {x: box[2] - 61, y: 459, 'font-size': 12}, 'Empirical');
  
  
}
cdf('cdf-rain', 'rain-cdf', cdfRainX, cdfRainGev, cdfRainEmpX, cdfRainEmpY, cdfRainTicks, 80, 240, 1696, 1920, [1668, 268, 1934, 482], 'Rainfall (mm)', 'GEV');
cdf('cdf-tide', 'tide-cdf', cdfTideX, cdfTideGamma, cdfTideEmpX, cdfTideEmpY, cdfTideTicks, 0.5, 3.5, 2043, 2283, [2019, 268, 2284, 482], 'Tidal level (m)', 'Gamma');

// QQ scatter
(function () {
  const g = G('qq-chart');
  const x = scale(0, 1, 1664.5, 1930), y = scale(0, 1, 871, 658);
  qqTheoretical.forEach((v, i) => {
    const c = add(g, 'ellipse', {cx: x(v), cy: y(qqEmpirical[i]), rx: 2.8, ry: 2.8, fill: '#f7a020'});
    
    
  });
  const d = add(g, 'line', {x1: x(0), y1: y(0), x2: x(1), y2: y(1), stroke: '#0a0ad8', 'stroke-width': 1.8});
  
  
  frame(g, 'qq', 1664.5, 658, 1930, 871, 1.2);
  xAxis(g, 'qq', qqXTicks, l => x(parseFloat(l)), 871, 14, 18, 3);
  yAxis(g, 'qq', qqYTicks, y, 1664.5, -1, 14, 5, 0);
  title(g, 'qq-x-title', 'Theoretical', 1797, 908, 13);
  title(g, 'qq-y-title', 'Emperical', 1640, 765, 13, true, true);
})();

// Copula surface
(function () {
  const g = G('surface-chart');
  const B = [2131, 881], R = [2274, 842], L = [2022, 829], ZH = 110;
  const proj = (u, v, c) => [B[0] + u * (R[0] - B[0]) + v * (L[0] - B[0]), B[1] + u * (R[1] - B[1]) + v * (L[1] - B[1]) - c * ZH];
  surfaceTicks.forEach(lab => {
    const z = parseFloat(lab);
    const a = proj(0, 1, z), b = proj(1, 1, z), c = proj(1, 0, z);
    const w = add(g, 'polyline', {points: a.join(',') + ' ' + b.join(',') + ' ' + c.join(','), fill: 'none', stroke: '#e6e6e6', 'stroke-width': 1});
    
    
    const t = add(g, 'text', {x: a[0] - 6, y: a[1] + 4, 'font-size': 11, 'text-anchor': 'end'}, lab);
    
    
    const p1 = proj(z, 1, 0), p1t = proj(z, 1, 1), p2 = proj(1, z, 0), p2t = proj(1, z, 1);
    const v1 = add(g, 'line', {x1: p1[0], y1: p1[1], x2: p1t[0], y2: p1t[1], stroke: '#e6e6e6', 'stroke-width': 1});
    
    
    const v2 = add(g, 'line', {x1: p2[0], y1: p2[1], x2: p2t[0], y2: p2t[1], stroke: '#e6e6e6', 'stroke-width': 1});
    
    
    const uP = proj(z, 0, 0), vP = proj(0, z, 0);
    const ut = add(g, 'text', {x: uP[0] + 9, y: uP[1] + 10, 'font-size': 12, 'text-anchor': 'middle'}, lab);
    
    
    const vt = add(g, 'text', {x: vP[0] - 11, y: vP[1] + 13, 'font-size': 12, 'text-anchor': 'middle'}, lab);
    
    
  });
  const mix = (a, b, t) => Math.round(a + (b - a) * t);
  const col = c => {
    const p = Math.max(0, Math.min(1, c)) * (parulaColors.length - 1), i = Math.min(parulaColors.length - 2, Math.floor(p)), t = p - i;
    const h = s => [1, 3, 5].map(k => parseInt(s.substr(k, 2), 16));
    const a = h(parulaColors[i]), b = h(parulaColors[i + 1]);
    return 'rgb(' + mix(a[0], b[0], t) + ',' + mix(a[1], b[1], t) + ',' + mix(a[2], b[2], t) + ')';
  };
  const n = surfaceC.length - 1, sub = 3, m = n * sub;
  const val = (a, b) => {
    const i = Math.min(n - 1, Math.floor(a / sub)), j = Math.min(n - 1, Math.floor(b / sub));
    const s = a / sub - i, t = b / sub - j;
    return surfaceC[i][j] * (1 - s) * (1 - t) + surfaceC[i + 1][j] * s * (1 - t) + surfaceC[i][j + 1] * (1 - s) * t + surfaceC[i + 1][j + 1] * s * t;
  };
  for (let k = 2 * m - 2; k >= 0; k--) {
    for (let a = Math.max(0, k - m + 1); a <= Math.min(m - 1, k); a++) {
      const b = k - a;
      const c = [[a, b], [a + 1, b], [a + 1, b + 1], [a, b + 1]];
      const vs = c.map(q => val(q[0], q[1]));
      const pts = c.map((q, i) => proj(q[0] / m, q[1] / m, vs[i]).map(z => z.toFixed(1)).join(',')).join(' ');
      const mean = (vs[0] + vs[1] + vs[2] + vs[3]) / 4;
      const cell = add(g, 'polygon', {points: pts, fill: col(mean), stroke: 'rgba(10,10,50,.4)', 'stroke-width': 0.5});
      
      
    }
  }
  const defs = add(g, 'defs', {});
  const lg = add(defs, 'linearGradient', {id: 'parula', x1: 0, y1: 1, x2: 0, y2: 0});
  parulaColors.forEach((c, i) => { add(lg, 'stop', {offset: i / (parulaColors.length - 1), 'stop-color': c}); });
  const cb = add(g, 'rect', {x: 2284, y: 687, width: 7, height: 195, fill: 'url(#parula)'});
  
  
  const cy = scale(0, 1, 882, 687);
  colorbarTicks.forEach(lab => {
    const t = add(g, 'text', {x: 2293, y: cy(parseFloat(lab)) + 4, 'font-size': 11}, lab);
    
    
  });
  title(g, 'surface-v-title', 'V', 2073, 894, 13);
  title(g, 'surface-u-title', 'U', 2197, 897, 13);
  title(g, 'surface-z-title', 'C(u,v)', 1998, 775, 11, true);
})();

// One-hour event
(function () {
  const g = G('short-event');
  const x = scale(0, 60, 3413, 3667), yL = scale(2, 2.8, 876, 636), yR = scale(-40, 40, 876, 636);
  grid(g, 'one-hour', 3392, 636, 3687, 876, shortXTicks.map((l, i) => x(i * 15)), shortLeftTicks.map(l => yL(parseFloat(l))));
  shortBarMinutes.forEach((m, i) => {
    const b = add(g, 'rect', {x: x(m) - 12.7, y: yR(shortRainPct[i]), width: 25.4, height: yR(0) - yR(shortRainPct[i]), fill: '#3bc273'});
    
    
  });
  poly(g, 'one-hour-tide-line', shortTideMinutes, shortTideLevel, x, yL, '#7030c0', 1.6);
  frame(g, 'one-hour', 3392, 636, 3687, 876, 1, '#555');
  xAxis(g, 'one-hour', shortXTicks, (l, i) => x(i * 15), 876, 13, 16, 3);
  yAxis(g, 'one-hour', shortLeftTicks, yL, 3392, -1, 13, 3, 0);
  yAxis(g, 'one-hour-right', shortRightTicks, yR, 3687, 1, 13, 3, 0);
  title(g, 'one-hour-x-title', 'Time (hr:min)', 3540, 906, 13);
  title(g, 'one-hour-left-title', 'Tidal level (m)', 3368, 756, 13, true, true);
  title(g, 'one-hour-right-title', 'Rainfall percentage (%)', 3719, 756, 13, true, true);
  const pl = add(g, 'text', {x: 3397, y: 656, 'font-size': 14}, '(a)');
  
  
  const ls = add(g, 'line', {x1: 3457, x2: 3482, y1: 651, y2: 651, stroke: '#7030c0', 'stroke-width': 1.6});
  
  
  const lt = add(g, 'text', {x: 3484, y: 655, 'font-size': 12, textLength: 49, lengthAdjust: 'spacingAndGlyphs'}, 'Tidal level');
  
  
  const rs = add(g, 'rect', {x: 3555, y: 644, width: 24, height: 12, fill: '#3bc273'});
  
  
  const rt = add(g, 'text', {x: 3583, y: 655, 'font-size': 12, textLength: 89, lengthAdjust: 'spacingAndGlyphs'}, 'Rainfall percentage');
  
  
})();

// Daily event
(function () {
  const g = G('long-event');
  const x = scale(0, 24, 3766.5, 4071.5), yL = scale(-1, 8, 879.5, 635), yR = scale(-8, 8, 852.7, 635);
  grid(g, 'daily', 3766, 635, 4071.5, 879, longXTicks.map((l, i) => x(i * 4)), longLeftTicks.map(l => yL(parseFloat(l))));
  longRainPct.forEach((v, i) => {
    const b = add(g, 'rect', {x: x(i * 0.25) - 1.5, y: yR(v), width: 3, height: yR(0) - yR(v), fill: '#7bd79b'});
    
    
  });
  const base = add(g, 'line', {x1: 3766, x2: 4071.5, y1: yR(0), y2: yR(0), stroke: '#bfe8cb', 'stroke-width': 1});
  
  
  poly(g, 'daily-tide-line', longTideHours, longTideLevel, x, yL, '#7030c0', 1.6);
  frame(g, 'daily', 3766, 635, 4071.5, 879, 1, '#555');
  xAxis(g, 'daily', longXTicks, (l, i) => x(i * 4), 879, 13, 16, 3);
  yAxis(g, 'daily', longLeftTicks, yL, 3766, -1, 13, 3, 0);
  yAxis(g, 'daily-right', longRightTicks, yR, 4071.5, 1, 13, 3, 0);
  title(g, 'daily-x-title', 'Time (hr:min)', 3919, 909, 13);
  title(g, 'daily-left-title', 'Tidal level (m)', 3751, 756, 13, true, true);
  title(g, 'daily-right-title', 'Rainfall percentage (%)', 4101, 756, 13, true, true);
  const pl = add(g, 'text', {x: 3779, y: 656, 'font-size': 14}, '(e)');
  
  
})();

// Box plot
(function () {
  const g = G('box-chart');
  const x = scale(0, 7, 177.6, 443.5), y = scale(0, 25, 1834, 1631);
  boxRP.forEach((c, i) => {
    const cx = x(i);
    const wl = add(g, 'line', {x1: cx, x2: cx, y1: y(boxLow[i]), y2: y(boxHigh[i]), stroke: '#222', 'stroke-width': 1.2});
    
    
    [boxLow[i], boxHigh[i]].forEach(v => {
      const cap = add(g, 'line', {x1: cx - 7, x2: cx + 7, y1: y(v), y2: y(v), stroke: '#222', 'stroke-width': 1.4});
      
      
    });
    const r = add(g, 'rect', {x: cx - 13, y: y(boxQ3[i]), width: 26, height: y(boxQ1[i]) - y(boxQ3[i]), fill: '#faf6c5', stroke: '#333', 'stroke-width': 1});
    
    
    const md = add(g, 'line', {x1: cx - 13, x2: cx + 13, y1: y(boxMedian[i]), y2: y(boxMedian[i]), stroke: '#222', 'stroke-width': 1.6});
    
    
    const mn = add(g, 'circle', {cx: cx, cy: y(boxMean[i]), r: 2.8, fill: '#000'});
    
    
  });
  boxOutliers.forEach(v => {
    const px = x(0), py = y(v);
    const o = add(g, 'polygon', {points: (px - 3.5) + ',' + (py + 3) + ' ' + (px + 3.5) + ',' + (py + 3) + ' ' + px + ',' + (py - 4), fill: '#000'});
    
    
  });
  frame(g, 'box', 158.5, 1610, 463, 1855, 1.2);
  xAxis(g, 'box', boxRP, (l, i) => x(i), 1855, 14, 19, 4);
  yAxis(g, 'box', boxYTicks, y, 158.5, -1, 14, 6, 0);
  title(g, 'box-x-title', 'RP (year)', 310, 1895, 15);
  title(g, 'box-y-title', 'Time (h)', 126, 1732, 15, true);
  const pl = add(g, 'text', {x: 171, y: 1637, 'font-size': 15}, '(e)');
  
  
})();

// Volume chart
(function () {
  const g = G('volume-chart');
  const x = scale(0, 7, 1183.3, 1454), y = scale(0, 4, 1860, 1625), yR = scale(-40, 40, 1835, 1633.5);
  const layers = [[volBlue, '#9bcbea'], [volTeal, '#8fdcd4'], [volGreen, '#d5dd88'], [volYellow, '#fedf85'], [volOrange, '#fec782']];
  volumeRP.forEach((c, i) => {
    let acc = 0;
    layers.forEach(l => {
      const top = acc + l[0][i];
      const r = add(g, 'rect', {x: x(i) - 14, y: y(top), width: 14, height: y(acc) - y(top), fill: l[1]});
      
      
      acc = top;
    });
    const t = add(g, 'rect', {x: x(i), y: y(volTotal[i]), width: 14, height: y(0) - y(volTotal[i]), fill: '#fca981'});
    
    
  });
  const idx = volumeRP.map((c, i) => i);
  poly(g, 'blue-percentage-line', idx, pctBlue, x, yR, '#0000e0', 1.6);
  poly(g, 'purple-percentage-line', idx, pctPurple, x, yR, '#9a5bd6', 1.6);
  idx.forEach(i => {
    const m = add(g, 'rect', {x: x(i) - 3, y: yR(pctBlue[i]) - 3, width: 6, height: 6, fill: '#0000e0'});
    
    
    const py = yR(pctPurple[i]), px = x(i);
    const p = add(g, 'polygon', {points: (px - 3.5) + ',' + (py + 3) + ' ' + (px + 3.5) + ',' + (py + 3) + ' ' + px + ',' + (py - 4), fill: '#9a5bd6'});
    
    
  });
  frame(g, 'volume', 1164, 1611, 1473, 1860, 1.2);
  xAxis(g, 'volume', volumeRP, (l, i) => x(i), 1860, 15, 19, 3);
  yAxis(g, 'volume', volLeftTicks, y, 1164, -1, 15, 5, 3);
  yAxis(g, 'volume-right', volRightTicks, yR, 1473, 1, 15, 6, 3);
  title(g, 'volume-x-title', 'RP (year)', 1319, 1901, 14);
  title(g, 'volume-y-title', 'Volume (×10⁴ m³)', 1135, 1735, 15, true);
  title(g, 'percentage-y-title', 'Percentage (%)', 1510, 1735, 15, true);
  const pl = add(g, 'text', {x: 1172, y: 1629, 'font-size': 15}, '(e)');
  
  
})();

// Bubble chart
(function () {
  const g = G('bubble-chart');
  const x = scale(0, 4, 1802, 2224.7), y = scale(0, 10, 1482, 2175.7), rad = v => 20 * v;
  bubbleValues.forEach((row, r) => {
    row.forEach((v, c) => {
      const b = add(g, 'circle', {cx: x(c), cy: y(r), r: rad(v), fill: '#c5e6eb', stroke: '#b5d6dc', 'stroke-width': 0.8});
      
      
      const t = add(g, 'text', {x: x(c) + rad(v) + 9, y: y(r) + 6, 'font-size': 18}, v.toFixed(2));
      
      
    });
  });
  frame(g, 'bubble', 1749, 1447, 2288, 2210, 2);
  xAxis(g, 'bubble', bubbleCols, (l, i) => x(i), 2210, 19, 21, -4);
  bubbleRows.forEach((lab, r) => {
    const tk = add(g, 'line', {x1: 1749, x2: 1754, y1: y(r), y2: y(r), stroke: '#222', 'stroke-width': 1});
    
    
    const t = add(g, 'text', {x: 1742, y: y(r) + 5, 'font-size': 17, 'text-anchor': 'end'}, lab);
    
    
  });
  title(g, 'bubble-x-title', 'Duration', 2018.6, 2261, 19);
  title(g, 'bubble-y-title', 'Drainage unit', 1685, 1829, 19, true);
  let ly = 1827;
  bubbleLegend.forEach((v, i) => {
    const c = add(g, 'circle', {cx: 2321, cy: ly, r: rad(v) * 0.97, fill: '#c5e6eb', stroke: '#7c9aa0', 'stroke-width': 1});
    
    
    const t = add(g, 'text', {x: 2347, y: ly + 6, 'font-size': 19}, v.toFixed(1));
    
    
    if (i < bubbleLegend.length - 1) ly += rad(v) + rad(bubbleLegend[i + 1]) + 17;
  });
})();
</script>
</body>
</html>
